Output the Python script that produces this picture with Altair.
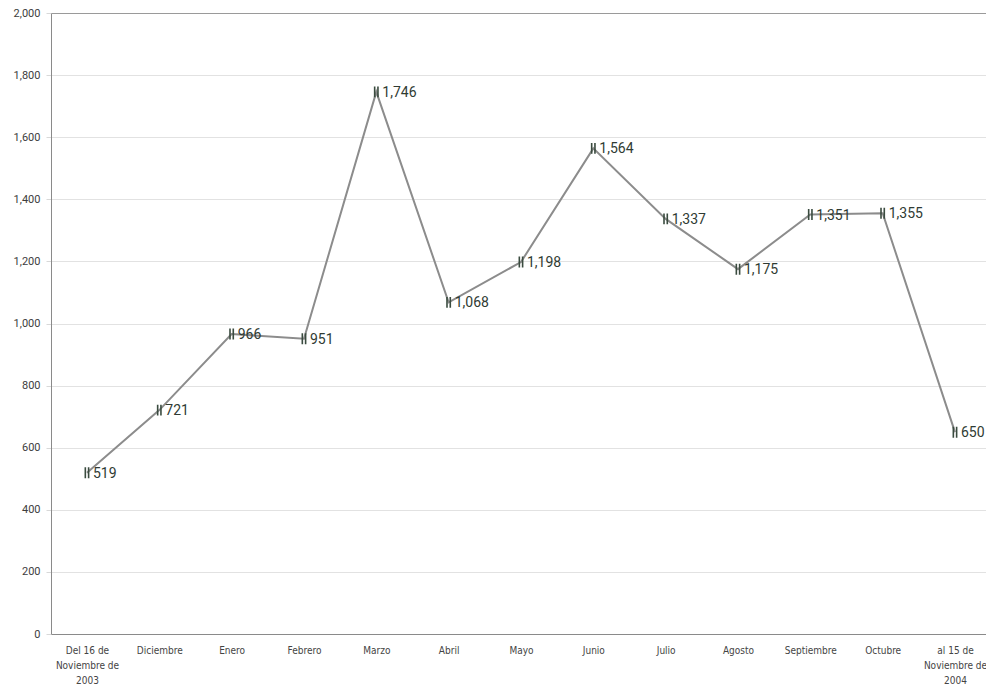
import altair as alt
import pandas as pd

categories = [
    "Del 16 de\nNoviembre de\n2003", "Diciembre", "Enero", "Febrero", "Marzo",
    "Abril", "Mayo", "Junio", "Julio", "Agosto", "Septiembre", "Octubre",
    "al 15 de\nNoviembre de\n2004",
]
values = [519, 721, 966, 951, 1746, 1068, 1198, 1564, 1337, 1175, 1351, 1355, 650]
y_ticks = list(range(0, 2001, 200))

df = pd.DataFrame({"mes": categories, "valor": values})

x = alt.X(
    "mes:N",
    sort=categories,
    title=None,
    scale=alt.Scale(type="point", padding=0.463, align=0.537, round=False),
    axis=alt.Axis(
        labelAngle=0,
        labelExpr="split(datum.label, '\\n')",
        labelFont="Liberation Sans Narrow, DejaVu Sans Condensed, sans-serif",
        labelFontSize=10,
        labelLineHeight=15,
        labelColor="#444444",
        labelPadding=11,
        ticks=False,
        domainColor="#8a8a8a",
        labelBaseline="top",
    ),
)
y = alt.Y(
    "valor:Q",
    title=None,
    scale=alt.Scale(domain=[0, 2000], nice=False),
    axis=alt.Axis(
        values=y_ticks,
        format=",d",
        labelFont="Roboto, Arial, sans-serif",
        labelFontSize=11,
        labelColor="#3d3d3d",
        labelPadding=6,
        tickSize=5,
        tickColor="#d8d8d8",
        domainColor="#8a8a8a",
        gridColor={"condition": {"test": "datum.value === 2000", "value": "#9a9a9a"}, "value": "#e2e2e2"},
    ),
)

base = alt.Chart(df).encode(x=x, y=y)

line = base.mark_line(color="#8c8c8c", strokeWidth=2)
marks = base.mark_point(
    shape="M-0.3,-1V1M0.3,-1V1",
    filled=False,
    stroke="#3a4b3f",
    strokeWidth=1.6,
    size=120,
    opacity=1,
)
labels = base.mark_text(
    align="left",
    baseline="middle",
    dx=6,
    dy=1,
    font="Roboto, Arial, sans-serif",
    fontSize=14,
    color="#2f3b33",
).encode(text=alt.Text("valor:Q", format=",d"))

chart = (
    (line + marks + labels)
    .properties(
        width=935,
        height=621,
        padding={"left": 43, "top": 5, "right": 0, "bottom": 55},
        autosize=alt.AutoSizeParams(type="none"),
    )
    .configure_view(stroke=None)
    .configure(background="white")
)

chart.save("out.html", embed_options={"renderer": "svg", "actions": False})
